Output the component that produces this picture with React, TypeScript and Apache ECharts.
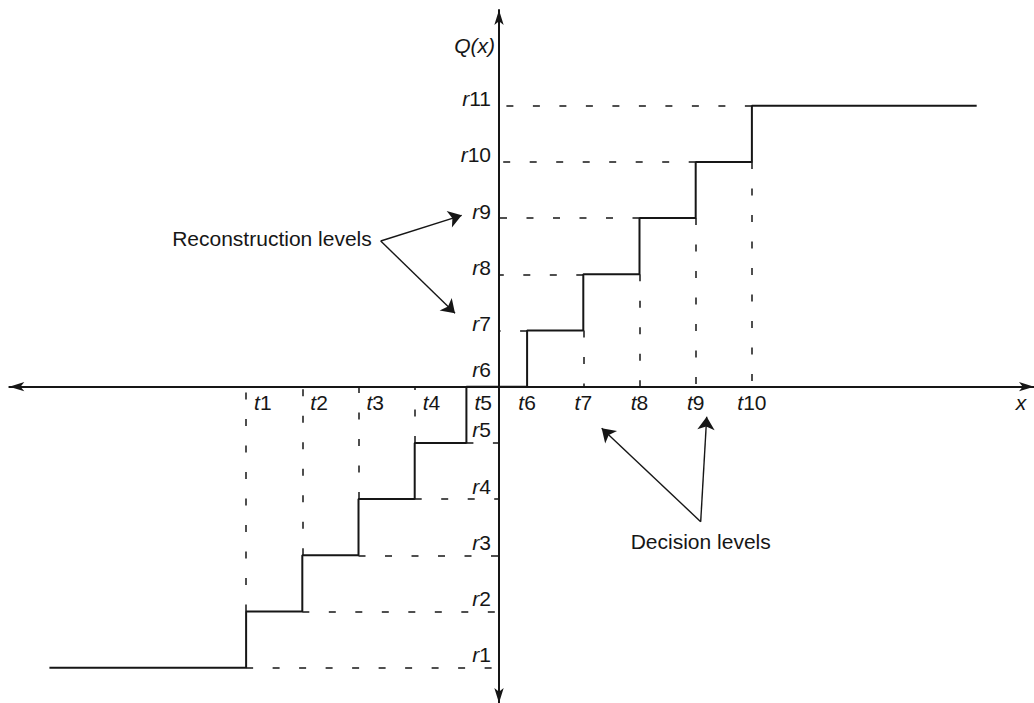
import React, { useEffect, useRef } from 'react';
import * as echarts from 'echarts';

// Reconstruction levels r1..r11 (output values Q(x))
const reconstructionNames = ['1', '2', '3', '4', '5', '6', '7', '8', '9', '10', '11'];
const reconstructionLevels = [-5, -4, -3, -2, -1, 0, 1, 2, 3, 4, 5];

// Decision levels t1..t10 (input thresholds x)
const decisionNames = ['1', '2', '3', '4', '5', '6', '7', '8', '9', '10'];
const decisionLevels = [-4.5, -3.5, -2.5, -1.5, -0.58, 0.5, 1.5, 2.5, 3.5, 4.5];

// Input range over which the staircase is drawn
const inputRange = [-8, 8.5];

// Axis extents
const xExtent = [-8.714, 9.52];
const yExtent = [-5.628, 6.703];

// Annotations (data coordinates)
const reconText = 'Reconstruction levels';
const reconTextAt = [-4.04, 2.646];
const reconArrowFrom = [-2.105, 2.593];
const reconArrowTips = [[-0.664, 3.05], [-0.783, 1.306]];

const decisionText = 'Decision levels';
const decisionTextAt = [3.589, -2.758];
const decisionArrowFrom = [3.589, -2.402];
const decisionArrowTips = [[1.827, -0.74], [3.696, -0.534]];

const FONT = "'Liberation Sans', Arial, Helvetica, sans-serif";
const FS = 21;
const INK = '#161616';

function textSeries(
  name: string,
  points: number[][],
  texts: string[],
  dx: number[],
  dy: number[],
  align: string[],
) {
  return {
    name,
    type: 'custom',
    clip: false,
    silent: true,
    z: 20,
    data: points,
    renderItem: (params: any, api: any) => {
      const i = params.dataIndex;
      const p = api.coord([api.value(0), api.value(1)]);
      return {
        type: 'text',
        x: p[0] + dx[i],
        y: p[1] + dy[i],
        style: {
          text: texts[i],
          fill: INK,
          fontSize: FS,
          fontFamily: FONT,
          align: align[i],
          verticalAlign: 'middle',
          rich: {
            i: { fontStyle: 'italic', fontSize: FS, fontFamily: FONT, fill: INK },
            n: { fontSize: FS, fontFamily: FONT, fill: INK },
          },
        },
      };
    },
  };
}

export default function App() {
  const ref = useRef<HTMLDivElement>(null);

  useEffect(() => {
    if (!ref.current) return;
    const chart = echarts.init(ref.current, undefined, { renderer: 'svg' });

    // staircase Q(x)
    const stair: number[][] = [[inputRange[0], reconstructionLevels[0]]];
    decisionLevels.forEach((t, i) => {
      stair.push([t, reconstructionLevels[i]]);
      stair.push([t, reconstructionLevels[i + 1]]);
    });
    stair.push([inputRange[1], reconstructionLevels[reconstructionLevels.length - 1]]);

    // dashed guides
    const guides: any[] = [];
    reconstructionLevels.forEach((r, i) => {
      if (i < 5) guides.push({ coords: [[decisionLevels[i], r], [0, r]] });
      else if (i > 5) guides.push({ coords: [[decisionLevels[i - 1], r], [0, r]] });
    });
    decisionLevels.forEach((t, i) => {
      const top = i < 5 ? reconstructionLevels[i + 1] : reconstructionLevels[i];
      if (top !== 0) guides.push({ coords: [[t, top], [t, 0]] });
    });

    // annotation arrows
    const arrows: any[] = [];
    reconArrowTips.forEach((tip) => arrows.push({ coords: [reconArrowFrom, tip] }));
    decisionArrowTips.forEach((tip) => arrows.push({ coords: [decisionArrowFrom, tip] }));

    // r labels
    const rPoints = reconstructionLevels.map((r) => [0, r]);
    const rTexts = reconstructionNames.map((n) => `{i|r}{n|${n}}`);
    const rDx = reconstructionLevels.map(() => -8);
    const rDy = reconstructionLevels.map((_, i) => (i < 5 ? -13 : i === 5 ? -17 : -7));
    const rAlign = reconstructionLevels.map(() => 'right');

    // t labels
    const tPoints = decisionLevels.map((t) => [t, 0]);
    const tTexts = decisionNames.map((n) => `{i|t}{n|${n}}`);
    const tDx = decisionLevels.map((_, i) => (i < 5 ? 8 : 0));
    const tDy = decisionLevels.map(() => 16);
    const tAlign = decisionLevels.map((_, i) => (i < 5 ? 'left' : 'center'));

    // axis names and annotation texts
    const misc = textSeries(
      'misc',
      [[0, 6.08], [9.29, 0], reconTextAt, decisionTextAt],
      ['{i|Q(x)}', '{i|x}', reconText, decisionText],
      [-4, 0, 0, 0],
      [0, 16, 0, 0],
      ['right', 'center', 'center', 'center'],
    );

    const axisCommon = {
      type: 'value',
      axisTick: { show: false },
      axisLabel: { show: false },
      splitLine: { show: false },
      axisLine: {
        show: true,
        onZero: true,
        symbol: ['arrow', 'arrow'],
        symbolSize: [7, 15],
        lineStyle: { color: INK, width: 2 },
      },
    };

    chart.setOption({
      animation: false,
      backgroundColor: '#ffffff',
      grid: { left: 9.3, right: 0, top: 10, bottom: 0, containLabel: false },
      xAxis: { ...axisCommon, min: xExtent[0], max: xExtent[1] },
      yAxis: { ...axisCommon, min: yExtent[0], max: yExtent[1] },
      series: [
        {
          name: 'guides',
          type: 'lines',
          coordinateSystem: 'cartesian2d',
          silent: true,
          z: 3,
          symbol: ['none', 'none'],
          lineStyle: { color: INK, width: 1.5, type: [7, 19.5], opacity: 1 },
          data: guides,
        },
        {
          name: 'Q(x)',
          type: 'line',
          data: stair,
          showSymbol: false,
          symbol: 'none',
          z: 5,
          lineStyle: { color: INK, width: 2 },
        },
        {
          name: 'arrows',
          type: 'lines',
          coordinateSystem: 'cartesian2d',
          silent: true,
          z: 6,
          symbol: ['none', 'arrow'],
          symbolSize: [6.75, 13],
          lineStyle: { color: INK, width: 1.4, opacity: 1 },
          itemStyle: { color: INK },
          data: arrows,
        },
        textSeries('rLabels', rPoints, rTexts, rDx, rDy, rAlign),
        textSeries('tLabels', tPoints, tTexts, tDx, tDy, tAlign),
        misc,
      ],
    });

    return () => chart.dispose();
  }, []);

  return (
    <div
      ref={ref}
      style={{ position: 'fixed', left: 0, top: 0, width: 1034, height: 703, background: '#fff' }}
    />
  );
}
